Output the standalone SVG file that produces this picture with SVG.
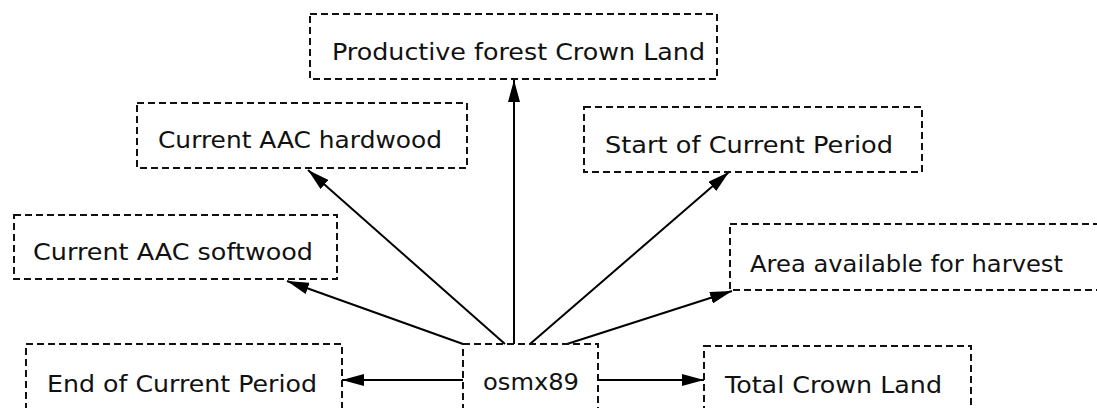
<svg xmlns="http://www.w3.org/2000/svg" width="1097" height="408" viewBox="0 0 1097 408">
<style>
.box{fill:none;stroke:#111;stroke-width:2;stroke-dasharray:7,4}
.t{font-family:"DejaVu Sans",Verdana,sans-serif;font-size:23px;fill:#111}
.c{stroke:#000;stroke-width:2;fill:none;marker-end:url(#ah)}
</style>
<defs>
<marker id="ah" viewBox="0 0 22 12" refX="22" refY="6" markerWidth="22" markerHeight="12" markerUnits="userSpaceOnUse" orient="auto">
<path d="M0,0 L22,6 L0,12 z" fill="#000"/>
</marker>
</defs>
<rect width="1097" height="408" fill="#fff"/>
<g id="connectors">
<line class="c" x1="463" y1="380" x2="342" y2="380"/>
<line class="c" x1="598" y1="380" x2="704" y2="380"/>
<line class="c" x1="514" y1="344" x2="514" y2="80"/>
<line class="c" x1="505" y1="344" x2="308" y2="170"/>
<line class="c" x1="463" y1="344" x2="287" y2="281"/>
<line class="c" x1="530" y1="344" x2="729" y2="172"/>
<line class="c" x1="567" y1="344" x2="732" y2="291"/>
</g>
<g id="n_productive"><rect class="box" x="310" y="14" width="407" height="65"/><text class="t" x="332" y="60" textLength="373" lengthAdjust="spacingAndGlyphs">Productive forest Crown Land</text></g>
<g id="n_hardwood"><rect class="box" x="137" y="103" width="330" height="65"/><text class="t" x="158" y="148" textLength="284" lengthAdjust="spacingAndGlyphs">Current AAC hardwood</text></g>
<g id="n_start"><rect class="box" x="584" y="107" width="338" height="65"/><text class="t" x="605" y="153" textLength="288" lengthAdjust="spacingAndGlyphs">Start of Current Period</text></g>
<g id="n_softwood"><rect class="box" x="14" y="215" width="323" height="64"/><text class="t" x="33" y="260" textLength="280" lengthAdjust="spacingAndGlyphs">Current AAC softwood</text></g>
<g id="n_area"><rect class="box" x="730" y="224" width="390" height="66"/><text class="t" x="750" y="272" textLength="313" lengthAdjust="spacingAndGlyphs">Area available for harvest</text></g>
<g id="n_end"><rect class="box" x="26" y="344" width="316" height="80"/><text class="t" x="47" y="392" textLength="270" lengthAdjust="spacingAndGlyphs">End of Current Period</text></g>
<g id="n_osmx89"><rect class="box" x="463" y="344" width="135" height="80"/><text class="t" x="483" y="390" textLength="96" lengthAdjust="spacingAndGlyphs">osmx89</text></g>
<g id="n_total"><rect class="box" x="704" y="346" width="267" height="80"/><text class="t" x="725" y="393" textLength="217" lengthAdjust="spacingAndGlyphs">Total Crown Land</text></g>
</svg>
